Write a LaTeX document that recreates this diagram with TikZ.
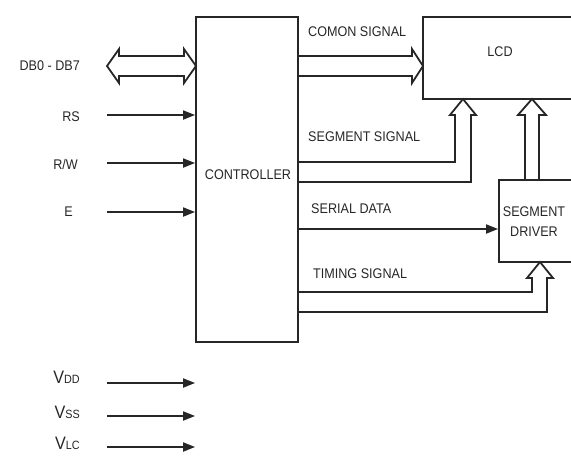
\documentclass[tikz,border=0pt]{standalone}
\usepackage{fontspec}
\setmainfont[FakeStretch=0.9]{Liberation Sans}
\usetikzlibrary{arrows.meta,calc}
\begin{document}
\begin{tikzpicture}[x=1pt,y=-1pt,
  ln/.style={line width=1.8pt,draw=black!85},
  box/.style={ln,rectangle,inner sep=0pt},
  lbl/.style={inner sep=0pt,font=\fontsize{14}{14}\selectfont,text=black!85,text height=10pt,text depth=0pt},
  vlbl/.style={inner sep=0pt,anchor=east,font=\fontsize{18}{18}\selectfont,text=black!85},
  sig/.style={ln,-{Triangle[length=12pt,width=9pt]}},
  bus/.style={ln,line join=miter}]
\useasboundingbox (0,0) rectangle (571,464);
\clip (0,0) rectangle (571,464);
% boxes
\node[box,minimum width=102pt,minimum height=325pt] (ctrl) at (247,179.5) {};
\node[box,minimum width=160pt,minimum height=82pt] (lcd) at (503,58) {};
\node[box,minimum width=84pt,minimum height=82pt] (drv) at (541,221) {};
% texts
\node[lbl,anchor=east] (tdb) at (80,65) {DB0 - DB7};
\node[lbl,anchor=east] (trs) at (80,116) {RS};
\node[lbl,anchor=east] (trw) at (78,164) {R/W};
\node[lbl,anchor=east] (te) at (73,211) {E};
\node[lbl] (tctrl) at (248,174) {CONTROLLER};
\node[lbl,anchor=west] (tcom) at (308,31) {COMON SIGNAL};
\node[lbl] (tlcd) at (500,51) {LCD};
\node[lbl,anchor=west] (tseg) at (308,136) {SEGMENT SIGNAL};
\node[lbl,anchor=west] (tser) at (311,208) {SERIAL DATA};
\node[lbl,anchor=west] (ttim) at (313,273) {TIMING SIGNAL};
\node[inner sep=0pt,align=center,font=\fontsize{14}{20}\selectfont,text=black!85] (tdrv) at (534,222) {SEGMENT\\DRIVER};
\node[vlbl] (tvdd) at (80,377) {V{\fontsize{12}{12}\selectfont DD}};
\node[vlbl] (tvss) at (80,412) {V{\fontsize{12}{12}\selectfont SS}};
\node[vlbl] (tvlc) at (80,443) {V{\fontsize{12}{12}\selectfont LC}};
% input arrows
\coordinate (srs) at (107,115);
\coordinate (srw) at (107,163);
\coordinate (se) at (107,212);
\coordinate (svdd) at (107,383);
\coordinate (svss) at (107,416);
\coordinate (svlc) at (107,447);
\foreach \c in {srs,srw,se,svdd,svss,svlc}
  \draw[sig] (\c) -- (\c -| ctrl.west);
% data bus
\draw[bus] (107,66) -- (119,49) -- (119,56) -- (184,56) -- (184,49) -- (196,66)
  -- (184,83) -- (184,76) -- (119,76) -- (119,83) -- cycle;
% common signal bus
\draw[bus] (298,56) -- (412,56) -- (412,49) -- (423,66) -- (412,83) -- (412,76) -- (298,76);
% segment signal bus
\draw[bus] (298,162) -- (455,162) -- (455,115) -- (450,115) -- (463,99) -- (476,115)
  -- (471,115) -- (471,182) -- (298,182);
% driver to LCD bus
\draw[bus] (525,180) -- (525,115) -- (518,115) -- (532,99) -- (546,115) -- (539,115) -- (539,180);
% serial data
\coordinate (sser) at (298,229);
\draw[sig] (sser) -- (sser -| drv.west);
% timing bus
\draw[bus] (298,292) -- (532,292) -- (532,278) -- (527,278) -- (540,262) -- (553,278)
  -- (547,278) -- (547,312) -- (298,312);
\end{tikzpicture}
\end{document}
